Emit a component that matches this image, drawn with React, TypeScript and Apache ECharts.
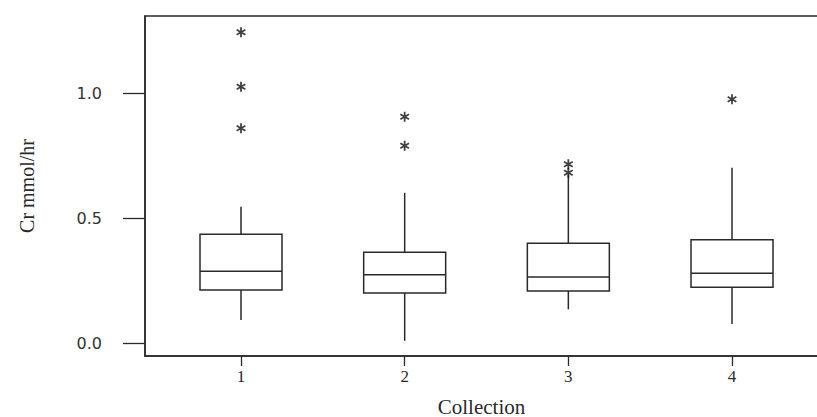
import React, { useEffect, useRef } from "react";
import * as echarts from "echarts";

const collections = [1, 2, 3, 4];
const lowWhisker = [0.093, 0.01, 0.136, 0.077];
const q1 = [0.213, 0.201, 0.209, 0.224];
const median = [0.288, 0.274, 0.265, 0.28];
const q3 = [0.436, 0.364, 0.4, 0.414];
const highWhisker = [0.546, 0.602, 0.673, 0.702];
const outlierCollection = [1, 1, 1, 2, 2, 3, 3, 4];
const outlierValue = [1.244, 1.026, 0.86, 0.906, 0.79, 0.716, 0.682, 0.976];
const yTicks = [0, 0.5, 1.0];

const starPath =
  "path://M-0.9,-5L0.9,-5L0.9,5L-0.9,5Z" +
  "M-4.78,-1.72L-3.88,-3.28L4.78,1.72L3.88,3.28Z" +
  "M3.88,-3.28L4.78,-1.72L-3.88,3.28L-4.78,1.72Z";

export default function App() {
  const ref = useRef<HTMLDivElement>(null);
  useEffect(() => {
    if (!ref.current) return;
    const chart = echarts.init(ref.current, null, { renderer: "svg" });
    const ink = "#2a2a2a";
    const boxData = collections.map((c, i) => [c, lowWhisker[i], q1[i], median[i], q3[i], highWhisker[i]]);
    const outData = outlierCollection.map((c, i) => [c, outlierValue[i]]);
    const halfBox = 41;
    chart.setOption({
      animation: false,
      backgroundColor: "#ffffff",
      grid: {
        left: 145,
        top: 16,
        width: 687,
        height: 340,
        show: true,
        borderColor: ink,
        borderWidth: 1.5,
        containLabel: false,
        outerBoundsMode: "none",
      },
      xAxis: {
        type: "value",
        min: 0.41345,
        max: 4.6109,
        name: "Collection",
        nameLocation: "middle",
        nameGap: 40,
        nameTextStyle: { fontFamily: "Liberation Serif", fontSize: 21, color: ink, padding: [0, 14, 0, 0] },
        splitLine: { show: false },
        axisLine: { show: true, onZero: false, lineStyle: { color: ink, width: 1.5 } },
        axisTick: { show: true, length: 10, customValues: collections, lineStyle: { color: ink, width: 1.3 } },
        axisLabel: {
          customValues: collections,
          margin: 12,
          fontFamily: "Liberation Serif",
          fontSize: 17,
          color: ink,
          formatter: (v: number) => String(Math.round(v)),
        },
      },
      yAxis: {
        type: "value",
        min: -0.0508,
        max: 1.3092,
        name: "Cr mmol/hr",
        nameLocation: "middle",
        nameRotate: 90,
        nameGap: 108,
        nameTextStyle: { fontFamily: "Liberation Serif", fontSize: 20, color: ink },
        splitLine: { show: false },
        axisLine: { show: true, onZero: false, lineStyle: { color: ink, width: 1.5 } },
        axisTick: { show: true, length: 22, customValues: yTicks, lineStyle: { color: ink, width: 1.3 } },
        axisLabel: {
          customValues: yTicks,
          margin: 43,
          fontFamily: "DejaVu Sans",
          fontSize: 16,
          color: "#333",
          formatter: (v: number) => v.toFixed(1),
        },
      },
      series: [
        {
          type: "custom",
          data: boxData,
          encode: { x: 0, y: [1, 2, 3, 4, 5] },
          renderItem: (params: any, api: any) => {
            const x = api.value(0);
            const pLow = api.coord([x, api.value(1)]);
            const pQ1 = api.coord([x, api.value(2)]);
            const pMed = api.coord([x, api.value(3)]);
            const pQ3 = api.coord([x, api.value(4)]);
            const pHigh = api.coord([x, api.value(5)]);
            const cx = pQ1[0];
            const lineStyle = { stroke: ink, lineWidth: 1.5, fill: "none" };
            return {
              type: "group",
              children: [
                { type: "line", shape: { x1: cx, y1: pLow[1], x2: cx, y2: pQ1[1] }, style: lineStyle },
                { type: "line", shape: { x1: cx, y1: pQ3[1], x2: cx, y2: pHigh[1] }, style: lineStyle },
                {
                  type: "rect",
                  shape: { x: cx - halfBox, y: pQ3[1], width: halfBox * 2, height: pQ1[1] - pQ3[1] },
                  style: { stroke: ink, lineWidth: 1.5, fill: "#ffffff" },
                },
                { type: "line", shape: { x1: cx - halfBox, y1: pMed[1], x2: cx + halfBox, y2: pMed[1] }, style: lineStyle },
              ],
            };
          },
        },
        {
          type: "scatter",
          data: outData,
          symbol: starPath,
          symbolSize: 10,
          symbolKeepAspect: true,
          itemStyle: { color: "#111" },
        },
      ],
    });
    return () => chart.dispose();
  }, []);
  return (
    <div
      ref={ref}
      style={{ position: "absolute", left: 0, top: 0, width: 817, height: 417 }}
    />
  );
}
